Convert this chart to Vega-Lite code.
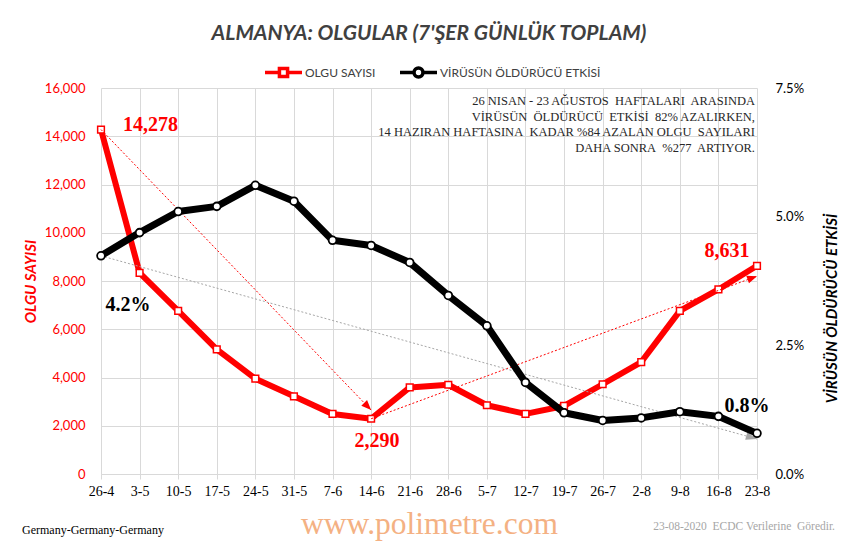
{
  "$schema": "https://vega.github.io/schema/vega-lite/v6.json",
  "width": 656,
  "height": 386,
  "autosize": "none",
  "padding": {"left": 101, "top": 88, "right": 88, "bottom": 70},
  "background": "white",
  "title": {
    "text": "ALMANYA: OLGULAR (7'ŞER GÜNLÜK TOPLAM)",
    "font": "Lato", "fontSize": 21, "fontWeight": "bold", "fontStyle": "italic",
    "color": "#404040", "anchor": "middle", "offset": 8
  },
  "datasets": {
    "weekly": [
      {"week": "26-4", "cases": 14278, "pct": 0.0424},
      {"week": "3-5", "cases": 8340, "pct": 0.0469},
      {"week": "10-5", "cases": 6760, "pct": 0.0510},
      {"week": "17-5", "cases": 5170, "pct": 0.0520},
      {"week": "24-5", "cases": 3950, "pct": 0.0561},
      {"week": "31-5", "cases": 3220, "pct": 0.0530},
      {"week": "7-6", "cases": 2490, "pct": 0.0454},
      {"week": "14-6", "cases": 2290, "pct": 0.0444},
      {"week": "21-6", "cases": 3590, "pct": 0.0411},
      {"week": "28-6", "cases": 3700, "pct": 0.0347},
      {"week": "5-7", "cases": 2850, "pct": 0.0288},
      {"week": "12-7", "cases": 2490, "pct": 0.0178},
      {"week": "19-7", "cases": 2820, "pct": 0.0119},
      {"week": "26-7", "cases": 3720, "pct": 0.0104},
      {"week": "2-8", "cases": 4640, "pct": 0.0109},
      {"week": "9-8", "cases": 6760, "pct": 0.0121},
      {"week": "16-8", "cases": 7650, "pct": 0.0112},
      {"week": "23-8", "cases": 8631, "pct": 0.0079}
    ],
    "arrows": [
      {"arrow": "a1", "from": "26-4", "to": "14-6", "v1": 14278, "v2": 2650},
      {"arrow": "a2", "from": "14-6", "to": "23-8", "v1": 2290, "v2": 8200},
      {"arrow": "a3", "from": "26-4", "to": "23-8", "v1": 0.0424, "v2": 0.0068}
    ]
  },
  "data": {"name": "weekly"},
  "encoding": {
    "x": {
      "field": "week", "type": "ordinal", "sort": null,
      "scale": {"type": "point", "padding": 0,
        "domain": ["26-4","3-5","10-5","17-5","24-5","31-5","7-6","14-6","21-6","28-6","5-7","12-7","19-7","26-7","2-8","9-8","16-8","23-8"]},
      "axis": {
        "title": "www.polimetre.com", "titleFont": "Liberation Serif", "titleFontSize": 31.5,
        "titleFontWeight": "normal", "titleColor": "#F4B183", "titleY": 59, "titleBaseline": "alphabetic",
        "labelFont": "Liberation Serif", "labelFontSize": 14, "labelColor": "#000000", "labelAngle": 0,
        "labelPadding": 5, "ticks": true, "tickSize": 5, "tickColor": "#d9d9d9",
        "domainColor": "#d9d9d9", "grid": true, "gridColor": "#d9d9d9"
      }
    }
  },
  "layer": [
    {
      "layer": [
        {
          "mark": {"type": "line", "strokeWidth": 6, "strokeJoin": "round"},
          "encoding": {
            "y": {
              "field": "cases", "type": "quantitative",
              "scale": {"domain": [0, 16000], "nice": false},
              "axis": {
                "values": [0,2000,4000,6000,8000,10000,12000,14000,16000], "format": ",.0f",
                "labelFont": "Lato", "labelFontSize": 13, "labelColor": "#FF0000", "labelPadding": 16,
                "ticks": false, "domain": false, "grid": true, "gridColor": "#d9d9d9",
                "title": "OLGU SAYISI", "titleFont": "Lato", "titleFontSize": 15, "titleFontWeight": "bold",
                "titleFontStyle": "italic", "titleColor": "#FF0000", "titleAngle": 270,
                "titleX": -71, "titleY": 193, "titleAlign": "center", "titleBaseline": "middle"
              }
            },
            "color": {
              "datum": "OLGU SAYISI", "type": "nominal",
              "scale": {"domain": ["OLGU SAYISI"], "range": ["#FF0000"]},
              "legend": {
                "title": null, "orient": "none", "legendX": 162, "legendY": -36, "padding": 0,
                "symbolType": "M-1,0 L-0.22,0 M0.22,0 L1,0 M-0.22,-0.22 L0.22,-0.22 L0.22,0.22 L-0.22,0.22 Z",
                "symbolSize": 1369, "symbolStrokeWidth": 3.5, "symbolFillColor": "white",
                "labelFont": "Lato", "labelFontSize": 12, "labelColor": "#404040", "labelOffset": 1, "labelLimit": 0
              }
            }
          }
        },
        {
          "mark": {"type": "point", "shape": "square", "size": 45, "filled": true, "fill": "white", "stroke": "#FF0000", "strokeWidth": 1.5, "opacity": 1},
          "encoding": {"y": {"field": "cases", "type": "quantitative"}}
        },
        {
          "data": {"name": "arrows"},
          "transform": [{"filter": "datum.arrow !== 'a3'"}],
          "mark": {"type": "rule", "color": "#FF0000", "strokeWidth": 1, "strokeDash": [2, 2]},
          "encoding": {
            "x": {"field": "from", "type": "ordinal"},
            "x2": {"field": "to"},
            "y": {"field": "v1", "type": "quantitative"},
            "y2": {"field": "v2"}
          }
        },
        {
          "data": {"name": "arrows"},
          "transform": [{"filter": "datum.arrow === 'a1'"}],
          "mark": {"type": "point", "shape": "M0,0 L-0.4,1 L0.4,1 Z", "size": 400, "angle": 136, "filled": true, "color": "#FF0000", "opacity": 1},
          "encoding": {"x": {"field": "to", "type": "ordinal"}, "y": {"field": "v2", "type": "quantitative"}}
        },
        {
          "data": {"name": "arrows"},
          "transform": [{"filter": "datum.arrow === 'a2'"}],
          "mark": {"type": "point", "shape": "M0,0 L-0.4,1 L0.4,1 Z", "size": 400, "angle": 70, "filled": true, "color": "#FF0000", "opacity": 1},
          "encoding": {"x": {"field": "to", "type": "ordinal"}, "y": {"field": "v2", "type": "quantitative"}}
        },
        {
          "transform": [{"filter": "datum.week === '26-4'"}],
          "mark": {"type": "text", "font": "Liberation Serif", "fontSize": 20, "fontWeight": "bold", "color": "#FF0000", "align": "left", "baseline": "middle", "dx": 22, "dy": -5},
          "encoding": {"y": {"field": "cases", "type": "quantitative"}, "text": {"field": "cases", "type": "quantitative", "format": ","}}
        },
        {
          "transform": [{"filter": "datum.week === '14-6'"}],
          "mark": {"type": "text", "font": "Liberation Serif", "fontSize": 20, "fontWeight": "bold", "color": "#FF0000", "align": "center", "baseline": "middle", "dx": 6, "dy": 22},
          "encoding": {"y": {"field": "cases", "type": "quantitative"}, "text": {"field": "cases", "type": "quantitative", "format": ","}}
        },
        {
          "transform": [{"filter": "datum.week === '23-8'"}],
          "mark": {"type": "text", "font": "Liberation Serif", "fontSize": 20, "fontWeight": "bold", "color": "#FF0000", "align": "center", "baseline": "middle", "dx": -30, "dy": -15},
          "encoding": {"y": {"field": "cases", "type": "quantitative"}, "text": {"field": "cases", "type": "quantitative", "format": ","}}
        },
        {
          "data": {"values": [{}]},
          "mark": {
            "type": "text", "font": "Liberation Serif", "fontSize": 12.5, "color": "#262626",
            "align": "right", "baseline": "top", "dx": -2, "dy": 7, "lineHeight": 15.5,
            "text": ["26 NISAN - 23 AĞUSTOS\u00a0 HAFTALARI\u00a0 ARASINDA", "VİRÜSÜN\u00a0 ÖLDÜRÜCÜ\u00a0 ETKİSİ\u00a0 82% AZALIRKEN,", "14 HAZIRAN HAFTASINA\u00a0 KADAR %84 AZALAN OLGU\u00a0 SAYILARI", "DAHA SONRA\u00a0 %277\u00a0 ARTIYOR."]
          },
          "encoding": {"x": {"datum": "23-8", "type": "ordinal"}, "y": {"datum": 16000, "type": "quantitative"}}
        },
        {
          "data": {"values": [{}]},
          "mark": {"type": "text", "font": "Liberation Serif", "fontSize": 12, "color": "#000000", "align": "left", "baseline": "middle", "dx": -79, "dy": 56, "text": "Germany-Germany-Germany"},
          "encoding": {"x": {"datum": "26-4", "type": "ordinal"}, "y": {"datum": 0, "type": "quantitative"}}
        },
        {
          "data": {"values": [{}]},
          "mark": {"type": "text", "font": "Liberation Serif", "fontSize": 11.5, "color": "#a6a6a6", "align": "right", "baseline": "middle", "dx": 78, "dy": 53, "text": "23-08-2020\u00a0 ECDC Verilerine\u00a0 Göredir."},
          "encoding": {"x": {"datum": "23-8", "type": "ordinal"}, "y": {"datum": 0, "type": "quantitative"}}
        }
      ]
    },
    {
      "layer": [
        {
          "data": {"name": "arrows"},
          "transform": [{"filter": "datum.arrow === 'a3'"}],
          "mark": {"type": "rule", "color": "#a6a6a6", "strokeWidth": 1, "strokeDash": [2, 2]},
          "encoding": {
            "x": {"field": "from", "type": "ordinal"},
            "x2": {"field": "to"},
            "y": {"field": "v1", "type": "quantitative"},
            "y2": {"field": "v2"}
          }
        },
        {
          "data": {"name": "arrows"},
          "transform": [{"filter": "datum.arrow === 'a3'"}],
          "mark": {"type": "point", "shape": "M0,0 L-0.35,1 L0.35,1 Z", "size": 500, "angle": 106, "filled": true, "color": "#a6a6a6", "opacity": 1},
          "encoding": {"x": {"field": "to", "type": "ordinal"}, "y": {"field": "v2", "type": "quantitative"}}
        },
        {
          "mark": {"type": "line", "strokeWidth": 7, "strokeJoin": "round"},
          "encoding": {
            "y": {
              "field": "pct", "type": "quantitative",
              "scale": {"domain": [0, 0.075], "nice": false},
              "axis": {
                "orient": "right", "values": [0, 0.025, 0.05, 0.075], "format": ".1%",
                "labelFont": "Lato", "labelFontSize": 13, "labelColor": "#000000", "labelPadding": 18,
                "ticks": false, "domain": false, "grid": false,
                "title": "VİRÜSÜN ÖLDÜRÜCÜ ETKİSİ", "titleFont": "Lato", "titleFontSize": 15, "titleFontWeight": "bold",
                "titleFontStyle": "italic", "titleColor": "#000000", "titleAngle": 270,
                "titleX": 74, "titleY": 220, "titleAlign": "center", "titleBaseline": "middle"
              }
            },
            "stroke": {
              "datum": "VİRÜSÜN ÖLDÜRÜCÜ ETKİSİ", "type": "nominal",
              "scale": {"domain": ["VİRÜSÜN ÖLDÜRÜCÜ ETKİSİ"], "range": ["#000000"]},
              "legend": {
                "title": null, "orient": "none", "legendX": 297, "legendY": -36, "padding": 0,
                "symbolType": "M-1,0 L-0.24,0 M0.24,0 L1,0 M0.24,0 A0.24,0.24 0 1 1 -0.24,0 A0.24,0.24 0 1 1 0.24,0 Z",
                "symbolSize": 1369, "symbolStrokeWidth": 3.5, "symbolFillColor": "white",
                "labelFont": "Lato", "labelFontSize": 12, "labelColor": "#404040", "labelOffset": 1, "labelLimit": 0
              }
            }
          }
        },
        {
          "mark": {"type": "point", "shape": "circle", "size": 60, "filled": true, "fill": "white", "stroke": "#000000", "strokeWidth": 1.8, "opacity": 1},
          "encoding": {"y": {"field": "pct", "type": "quantitative"}}
        },
        {
          "transform": [{"filter": "datum.week === '26-4'"}],
          "mark": {"type": "text", "font": "Liberation Serif", "fontSize": 20, "fontWeight": "bold", "color": "#000000", "align": "center", "baseline": "middle", "dx": 27, "dy": 49},
          "encoding": {"y": {"field": "pct", "type": "quantitative"}, "text": {"field": "pct", "type": "quantitative", "format": ".1%"}}
        },
        {
          "transform": [{"filter": "datum.week === '23-8'"}],
          "mark": {"type": "text", "font": "Liberation Serif", "fontSize": 20, "fontWeight": "bold", "color": "#000000", "align": "center", "baseline": "middle", "dx": -10, "dy": -27},
          "encoding": {"y": {"field": "pct", "type": "quantitative"}, "text": {"field": "pct", "type": "quantitative", "format": ".1%"}}
        }
      ]
    }
  ],
  "resolve": {"scale": {"y": "independent"}, "axis": {"y": "independent"}},
  "config": {"view": {"stroke": null}}
}
